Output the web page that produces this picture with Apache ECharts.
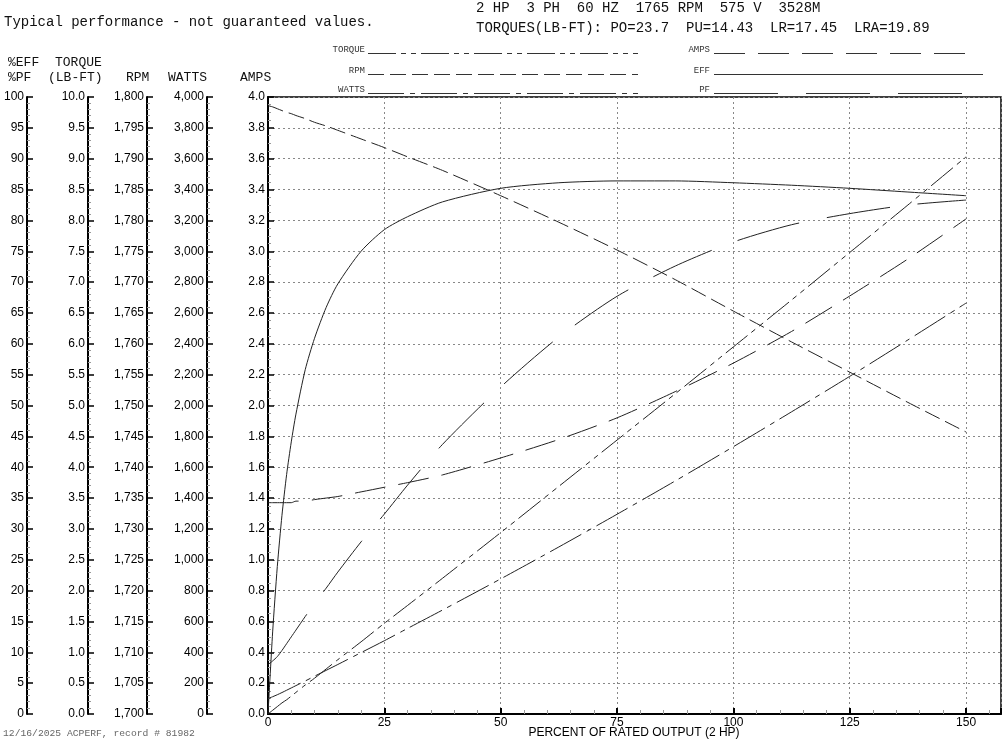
<!DOCTYPE html>
<html><head><meta charset="utf-8">
<script src="https://cdn.jsdelivr.net/npm/echarts@6/dist/echarts.min.js"></script>
<style>html,body{margin:0;padding:0;background:#fff}#c{width:1008px;height:740px}</style>
</head><body><div id="c"></div>
<script>
// ---- data ----
const load = [0,1,2,3,4,5,6,8,10,12.5,15,20,25,30,37.5,50,62.5,75,87.5,100,112.5,125,137.5,150];
const effPct = [0,13.3,23.9,32.2,38.8,44.1,48.6,55.8,60.9,65.9,69.7,75.0,78.5,80.6,83.0,85.2,86.1,86.4,86.4,86.1,85.7,85.2,84.6,84.0];
const pfPct = [8.0,8.6,9.3,10.3,11.4,12.5,13.6,15.8,17.9,20.4,23.0,27.9,32.4,37.1,43.7,53.0,61.1,67.7,72.6,76.5,79.3,81.1,82.5,83.3];
const torqueLbFt = [0,0.06,0.12,0.18,0.23,0.29,0.35,0.47,0.58,0.73,0.88,1.17,1.47,1.76,2.20,2.94,3.69,4.44,5.19,5.95,6.71,7.48,8.25,9.03];
const rpm = [1798.6,1798.4,1798.1,1797.8,1797.5,1797.3,1797.0,1796.5,1795.9,1795.3,1794.6,1793.2,1791.8,1790.3,1788.1,1784.0,1779.7,1775.2,1770.4,1765.3,1760.3,1755.4,1750.5,1745.7];
const watts = [100,112,125,139,154,169,184,214,245,283,321,398,475,555,674,876,1083,1295,1511,1733,1959,2189,2425,2664];
const amps = [1.37,1.37,1.37,1.37,1.37,1.37,1.38,1.38,1.39,1.40,1.41,1.44,1.47,1.50,1.55,1.66,1.78,1.92,2.09,2.275,2.48,2.71,2.95,3.21];

const xRange = [0, 157.5, 25];          // min, max, interval
const ampsRange = [0, 4, 0.2];
const wattsRange = [0, 4000, 200];
const rpmRange = [1700, 1800, 5];
const torqueRange = [0, 10, 0.5];
const effRange = [0, 100, 5];

const headerLine1 = '2 HP  3 PH  60 HZ  1765 RPM  575 V  3528M';
const headerLine2 = 'TORQUES(LB-FT): PO=23.7  PU=14.43  LR=17.45  LRA=19.89';
const note = 'Typical performance - not guaranteed values.';
const footer = '12/16/2025 ACPERF, record # 81982';
const xTitle = 'PERCENT OF RATED OUTPUT (2 HP)';

// ---- helpers ----
const zip = (xs, ys) => xs.map((x, i) => [x, ys[i]]);
const comma = v => Math.round(v).toString().replace(/\B(?=(\d{3})+(?!\d))/g, ',');
const MONO = '"Liberation Mono", "Courier New", monospace';
const SANS = '"Liberation Sans", Arial, sans-serif';

function yAx(range, offset, fmt, minorSplit, splitLine) {
  return {
    type: 'value', position: 'left', offset: offset,
    min: range[0], max: range[1], interval: range[2],
    axisLine: { show: true, onZero: false, lineStyle: { color: '#000', width: 2 } },
    axisTick: { show: true, inside: true, length: 6, lineStyle: { color: '#000', width: 1.5 } },
    minorTick: { show: true, splitNumber: minorSplit, length: 3, lineStyle: { color: '#999', width: 1 } },
    axisLabel: { show: true, margin: 3, color: '#000', fontFamily: SANS, fontSize: 12, formatter: fmt },
    splitLine: splitLine ? { show: true, lineStyle: { type: [2, 3], color: '#888', width: 1 } } : { show: false },
    minorSplitLine: { show: false }
  };
}

function txt(x, y, text, font, align, fill) {
  return { type: 'text', x: x, y: y, silent: true,
    style: { text: text, font: font, fill: fill || '#111', align: align || 'left', verticalAlign: 'middle',
             textAlign: align || 'left', textVerticalAlign: 'middle' } };
}
function lg(x1, x2, y, dash) {
  return { type: 'line', silent: true, shape: { x1: x1, y1: y, x2: x2, y2: y },
    style: { stroke: '#333', lineWidth: 1, lineDash: dash } };
}

const lineCol = '#222';
function ser(name, yIdx, ys, dash) {
  return { name: name, type: 'line', yAxisIndex: yIdx, data: zip(load, ys),
    showSymbol: false, smooth: 0.25, clip: true, silent: true,
    lineStyle: { color: lineCol, width: 1, type: dash } };
}

const chart = echarts.init(document.getElementById('c'), null, { renderer: 'canvas' });
chart.setOption({
  animation: false,
  backgroundColor: '#fff',
  grid: { left: 268, right: 7, top: 97, bottom: 26, show: true, borderColor: '#000', borderWidth: 1.5,
          backgroundColor: 'transparent', containLabel: false, outerBoundsMode: 'none' },
  xAxis: {
    type: 'value', min: xRange[0], max: xRange[1], interval: xRange[2],
    axisLine: { show: true, onZero: false, lineStyle: { color: '#000', width: 2 } },
    axisTick: { show: true, inside: true, length: 6, lineStyle: { color: '#000', width: 2 } },
    minorTick: { show: true, splitNumber: 5, length: 4, lineStyle: { color: '#999', width: 1 } },
    axisLabel: { margin: 3, color: '#000', fontFamily: SANS, fontSize: 12, showMaxLabel: false,
                 formatter: v => (v % 25 === 0 ? String(v) : '') },
    splitLine: { show: true, lineStyle: { type: [2, 3], color: '#888', width: 1 } }
  },
  yAxis: [
    yAx(ampsRange, 0, v => v.toFixed(1), 4, true),
    yAx(wattsRange, 61, v => comma(v), 5, false),
    yAx(rpmRange, 121, v => comma(v), 5, false),
    yAx(torqueRange, 180, v => v.toFixed(1), 5, false),
    yAx(effRange, 241, v => String(Math.round(v)), 5, false)
  ],
  series: [
    ser('EFF', 4, effPct, 'solid'),
    ser('PF', 4, pfPct, [64, 28]),
    ser('TORQUE', 3, torqueLbFt, [28, 5, 5, 5, 5, 5]),
    ser('RPM', 2, rpm, [16, 6]),
    ser('WATTS', 1, watts, [36, 6, 5, 6]),
    ser('AMPS', 0, amps, [31, 13])
  ],
  graphic: [
    txt(4, 22, note, '14px ' + MONO),
    txt(476, 8, headerLine1, '14px ' + MONO),
    txt(476, 28, headerLine2, '14px ' + MONO),
    txt(8, 63, '%EFF', '13px ' + MONO),
    txt(8, 78, '%PF', '13px ' + MONO),
    txt(55, 63, 'TORQUE', '13px ' + MONO),
    txt(48, 78, '(LB-FT)', '13px ' + MONO),
    txt(126, 78, 'RPM', '13px ' + MONO),
    txt(168, 78, 'WATTS', '13px ' + MONO),
    txt(240, 78, 'AMPS', '13px ' + MONO),
    txt(365, 50, 'TORQUE', '9px ' + MONO, 'right', '#333'),
    txt(365, 71, 'RPM', '9px ' + MONO, 'right', '#333'),
    txt(365, 90, 'WATTS', '9px ' + MONO, 'right', '#333'),
    txt(710, 50, 'AMPS', '9px ' + MONO, 'right', '#333'),
    txt(710, 71, 'EFF', '9px ' + MONO, 'right', '#333'),
    txt(710, 90, 'PF', '9px ' + MONO, 'right', '#333'),
    lg(368, 638, 53.5, [28, 5, 5, 5, 5, 5]),
    lg(368, 638, 74.5, [16, 6]),
    lg(368, 638, 93.5, [36, 6, 5, 6]),
    lg(714, 976, 53.5, [31, 13]),
    lg(714, 983, 74.5, null),
    lg(714, 962, 93.5, [64, 28]),
    txt(634, 733, xTitle, '12px ' + SANS, 'center', '#000'),
    txt(3, 733, footer, '9.7px ' + MONO, 'left', '#666')
  ]
});
</script>
</body></html>
